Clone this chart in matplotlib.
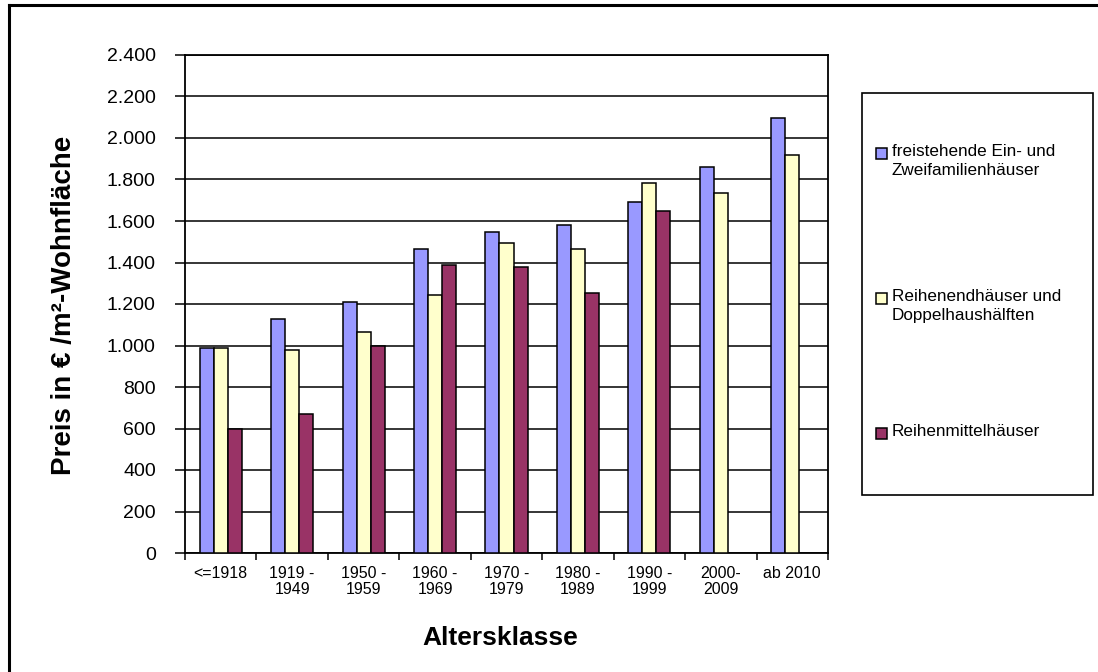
import matplotlib
matplotlib.use("Agg")
import matplotlib.pyplot as plt
import numpy as np
from matplotlib.lines import Line2D
from matplotlib.ticker import FuncFormatter, MultipleLocator

plt.rcParams['font.family'] = ['Liberation Sans', 'DejaVu Sans']

categories = ["<=1918", "1919 -\n1949", "1950 -\n1959", "1960 -\n1969", "1970 -\n1979",
              "1980 -\n1989", "1990 -\n1999", "2000-\n2009", "ab 2010"]
series_names = ["freistehende Ein- und\nZweifamilienhäuser",
                "Reihenendhäuser und\nDoppelhaushälften",
                "Reihenmittelhäuser"]
freistehend = [990, 1130, 1210, 1465, 1545, 1580, 1690, 1860, 2095]
reihenend = [990, 980, 1065, 1245, 1495, 1465, 1785, 1735, 1920]
reihenmittel = [600, 670, 1000, 1390, 1380, 1255, 1650, np.nan, np.nan]
colors = ["#9999FF", "#FFFFCC", "#993366"]

W, H = 1098, 672
fig = plt.figure(figsize=(W / 100, H / 100), dpi=100)


def fx(px):
    return px / W


def fy(py):
    return 1 - py / H


ax = fig.add_axes([fx(185), fy(553), fx(828 - 185), (553 - 55) / H])

x = np.arange(len(categories))
w = 0.196
for i, (vals, c) in enumerate(zip([freistehend, reihenend, reihenmittel], colors)):
    ax.bar(x + (i - 1) * w, vals, width=w, color=c, edgecolor="black", linewidth=1.1, zorder=3)

ax.set_xlim(-0.5, len(categories) - 0.5)
ax.set_ylim(0, 2400)
ax.yaxis.set_major_locator(MultipleLocator(200))
ax.yaxis.set_major_formatter(FuncFormatter(lambda v, p: f"{int(v):,}".replace(",", ".")))
ax.grid(axis="y", color="black", linewidth=1.1, zorder=0)
ax.set_axisbelow(True)
for s in ax.spines.values():
    s.set_linewidth(1.3)
    s.set_color("black")

ax.set_xticks(x)
ax.set_xticklabels(categories, fontsize=11.5, linespacing=1.1)
ax.tick_params(axis="x", length=0, pad=9)
ax.set_xticks(np.arange(len(categories) + 1) - 0.5, minor=True)
ax.tick_params(axis="x", which="minor", length=5, direction="out", width=1.1)
ax.tick_params(axis="y", labelsize=14, length=7, width=1.1, direction="out", pad=14)

fig.text(fx(64), fy(305), "Preis in € /m²-Wohnfläche", rotation=90,
         fontsize=20, fontweight="bold", ha="center", va="center")
fig.text(fx(500), fy(638), "Altersklasse", fontsize=19, fontweight="bold",
         ha="center", va="center")

# legend box with its three entries
lx0, ly0, lx1, ly1 = 862, 93, 1093, 495
fig.patches.append(plt.Rectangle((fx(lx0), fy(ly1)), fx(lx1 - lx0), (ly1 - ly0) / H,
                                 transform=fig.transFigure, facecolor="white",
                                 edgecolor="black", linewidth=1.2))
line1_centers = [153, 298, 433]
for name, c, yc in zip(series_names, colors, line1_centers):
    fig.patches.append(plt.Rectangle((fx(876), fy(yc + 6)), fx(11), 11 / H,
                                     transform=fig.transFigure, facecolor=c,
                                     edgecolor="black", linewidth=1.1))
    fig.text(fx(892), fy(yc - 9), name, fontsize=12.3, ha="left", va="top",
             linespacing=1.3)

# outer chart frame (top and left edges)
fig.add_artist(Line2D([fx(9), fx(9)], [0, fy(5)], color="black", linewidth=2.2,
                      transform=fig.transFigure))
fig.add_artist(Line2D([fx(9), 1], [fy(5), fy(5)], color="black", linewidth=2.2,
                      transform=fig.transFigure))

fig.savefig("out.png", dpi=100)
